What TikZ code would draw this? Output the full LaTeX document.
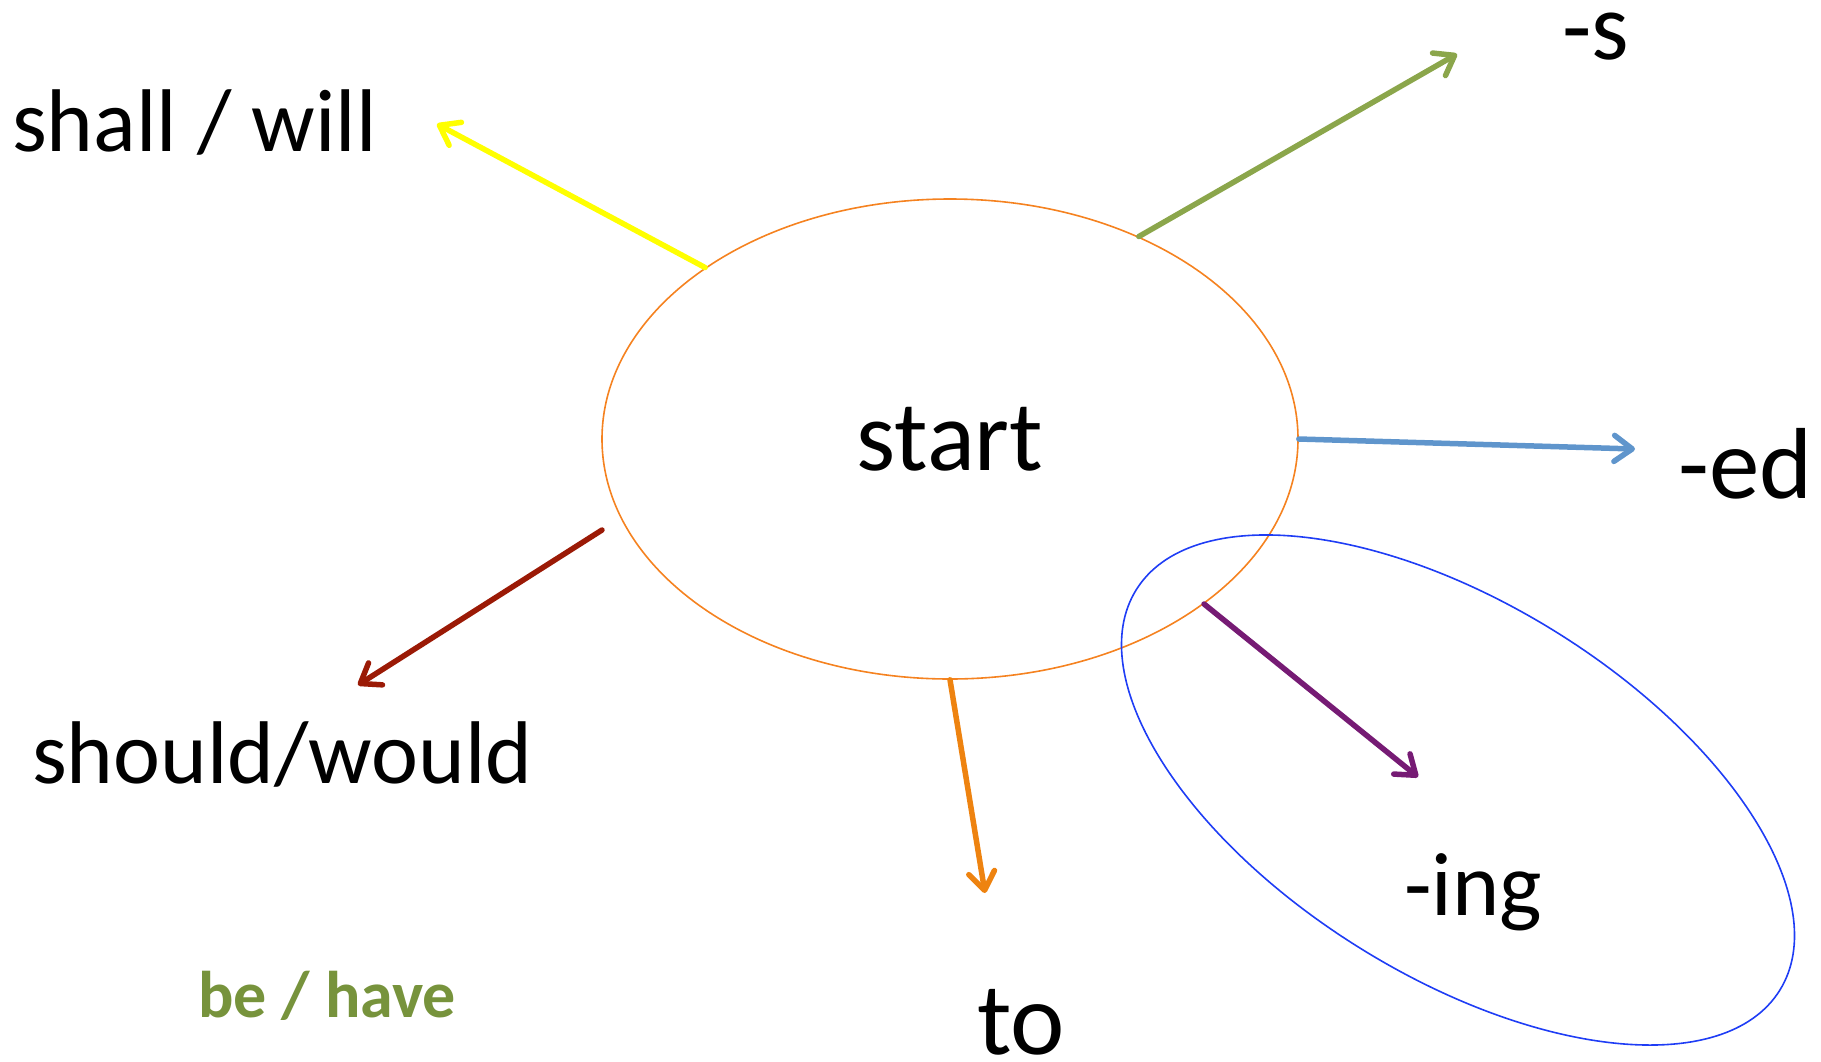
\documentclass[tikz,border=0pt]{standalone}
\usepackage{fontspec}
\setmainfont{Carlito}
\usepackage{tikz}
\usetikzlibrary{shapes.geometric,arrows.meta,positioning,calc}
\usepackage{xcolor}
\definecolor{RingOrange}{HTML}{F58220}
\definecolor{RingBlue}{HTML}{1F3DF5}
\definecolor{ArrYellow}{HTML}{FFFF00}
\definecolor{ArrGreen}{HTML}{8BA64B}
\definecolor{ArrBlue}{HTML}{5F95CC}
\definecolor{ArrRed}{HTML}{9B1A06}
\definecolor{ArrOrange}{HTML}{EE8310}
\definecolor{ArrPurple}{HTML}{761B74}
\definecolor{TextGreen}{HTML}{77933C}

\begin{document}
\begin{tikzpicture}[x=1pt, y=-1pt,
    word/.style={anchor=base west, inner sep=0pt, font=\fontsize{#1}{#1}\selectfont},
    word/.default=100,
    boldword/.style={anchor=base west, inner sep=0pt, text=TextGreen, font=\fontsize{#1}{#1}\selectfont\bfseries},
    arr/.style={-{Straight Barb[length=18pt,width=26pt,round]}, line width=5.5pt, line cap=round, draw=#1}
  ]
    \useasboundingbox (0,0) rectangle (1821,1061);

    \node[ellipse, draw=RingOrange, line width=1.6pt, minimum width=696pt, minimum height=480pt, inner sep=0pt, font=\fontsize{100}{100}\selectfont] (start) at (950,439) {start};
    \draw[RingBlue, line width=1.6pt, rotate around={-31.9:(1458,790)}] (1458,790) ellipse (379 and 186);

    \node[word=89] (shall) at (12,151) {shall / will};
    \node[word=96] (s) at (1562,59) {-s};
    \node[word=101] (ed) at (1678,498) {-ed};
    \node[word=89] (should) at (32,783) {should/would};
    \node[word=90] (ing) at (1404,915) {-ing};
    \node[word=103] (to) at (977,1054) {to};
    \node[boldword=66] (behave) at (198,1017) {be / have};

    \coordinate (shallend) at (437,124);
    \coordinate (send) at (1457,54);
    \coordinate (edend) at (1635,449);
    \coordinate (shouldbeg) at (602,530);
    \coordinate (shouldend) at (358,685);
    \coordinate (toend) at (985,893);
    \coordinate (ingend) at (1418,777);

    \draw[arr=ArrYellow] (start.145) -- (shallend);
    \draw[arr=ArrGreen] (start.47.5) -- (send);
    \draw[arr=ArrBlue] (start.0.3) -- (edend);
    \draw[arr=ArrRed] (shouldbeg) -- (shouldend);
    \draw[arr=ArrOrange] (start.270) -- (toend);
    \draw[arr=ArrPurple] (start.-33.4) -- (ingend);
  \end{tikzpicture}
\end{document}
